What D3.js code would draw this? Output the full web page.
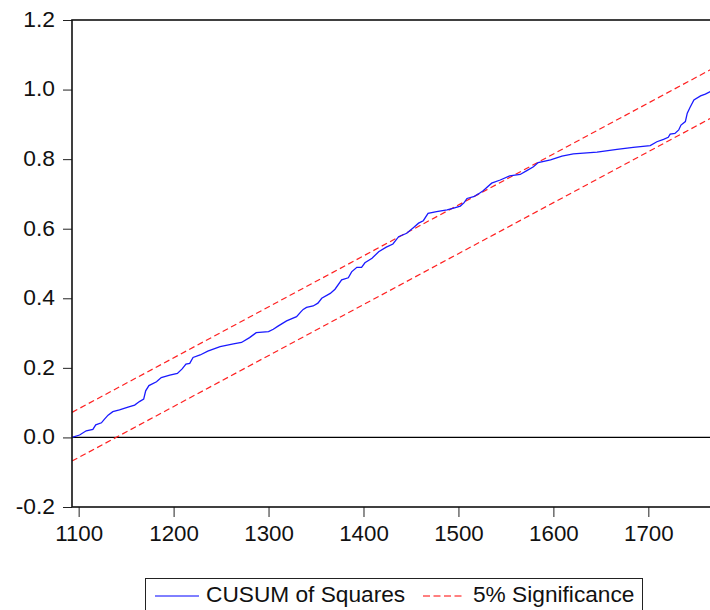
<!DOCTYPE html>
<html>
<head>
<meta charset="utf-8">
<script src="https://cdn.jsdelivr.net/npm/d3@7"></script>
<style>
  body { margin: 0; background: #fff; }
  svg { display: block; }
</style>
</head>
<body>
<div id="chart"></div>
<script>
// observation index of the CUSUM of squares series
var obs = [1093, 1101, 1108, 1115, 1118, 1124, 1127, 1131, 1136, 1143, 1152, 1159, 1164, 1168.5,
  1170.6, 1174, 1182, 1187, 1196, 1204, 1209, 1213, 1217, 1220.5, 1228, 1236, 1249, 1263, 1271.5,
  1280, 1287, 1300, 1305, 1310, 1319, 1329.5, 1334, 1336.5, 1340, 1347, 1352, 1356, 1365, 1370,
  1377, 1384, 1387.5, 1393, 1398, 1401.5, 1409, 1416, 1424, 1431, 1437, 1445.5, 1452.5, 1458,
  1463, 1468, 1477, 1488, 1495, 1502, 1506, 1509, 1516, 1521, 1526, 1535, 1544, 1554, 1565, 1572,
  1579, 1584, 1597, 1609, 1621, 1646, 1667, 1684, 1702, 1709, 1716, 1721, 1723, 1728, 1732, 1734.4,
  1739, 1741, 1744, 1748, 1755, 1760, 1765.3]
var cusumSq = [0, 0.007, 0.019, 0.023, 0.036, 0.042, 0.052, 0.064, 0.074, 0.079, 0.087, 0.093, 0.103, 0.110,
  0.134, 0.149, 0.160, 0.172, 0.179, 0.184, 0.197, 0.211, 0.213, 0.230, 0.237, 0.248, 0.261, 0.269, 0.273,
  0.287, 0.301, 0.304, 0.311, 0.320, 0.335, 0.347, 0.361, 0.368, 0.374, 0.378, 0.386, 0.400, 0.414, 0.426,
  0.453, 0.459, 0.476, 0.489, 0.489, 0.502, 0.515, 0.534, 0.547, 0.556, 0.577, 0.587, 0.603, 0.616,
  0.623, 0.644, 0.649, 0.654, 0.659, 0.665, 0.675, 0.687, 0.692, 0.700, 0.709, 0.731, 0.740, 0.752, 0.756, 0.767,
  0.778, 0.790, 0.798, 0.809, 0.815, 0.820, 0.828, 0.834, 0.839, 0.850, 0.857, 0.863, 0.872, 0.874, 0.884, 0.898,
  0.908, 0.932, 0.949, 0.970, 0.982, 0.987, 0.994]

// 5% significance bands (end points)
var bandObs = [1093, 1766]
var upperBand = [0.072, 1.058]
var lowerBand = [-0.068, 0.918]

var xTicks = [1100, 1200, 1300, 1400, 1500, 1600, 1700]
var yTicks = [-0.2, 0.0, 0.2, 0.4, 0.6, 0.8, 1.0, 1.2]
var legendLabels = ["CUSUM of Squares", "5% Significance"]

var W = 710, H = 610
var margin = {top: 20, left: 72, right: -1, bottom: 103}
var plotW = W - margin.left - margin.right,
    plotH = H - margin.top - margin.bottom
var font = "Liberation Sans, Arial, sans-serif"

var svg = d3.select("#chart").append("svg")
    .attr("width", W).attr("height", H)

var g = svg.append("g")
    .attr("transform", "translate(" + margin.left + "," + margin.top + ")")

var x = d3.scaleLinear().domain([1093, 1766]).range([0, plotW])
var y = d3.scaleLinear().domain([-0.2, 1.2]).range([plotH, 0])

var xAxis = g.append("g")
    .attr("transform", "translate(0," + plotH + ")")
    .call(d3.axisBottom(x).tickValues(xTicks).tickFormat(d3.format("d")).tickSize(10).tickPadding(8))
xAxis.select(".domain").remove()
xAxis.selectAll("text").attr("font-family", font).attr("font-size", 22.3).attr("fill", "#111")
xAxis.selectAll("line").attr("stroke", "#222")

var yAxis = g.append("g")
    .call(d3.axisLeft(y).tickValues(yTicks)
      .tickFormat(function(d) { return d3.format(".1f")(d).replace("\u2212", "-") })
      .tickSize(9).tickPadding(8))
yAxis.select(".domain").remove()
yAxis.selectAll("text").attr("font-family", font).attr("font-size", 22.8).attr("fill", "#111").attr("dy", "0.28em")
yAxis.selectAll("line").attr("stroke", "#222")

// zero line
g.append("line")
    .attr("x1", 0).attr("x2", plotW)
    .attr("y1", y(0)).attr("y2", y(0))
    .attr("stroke", "#000").attr("stroke-width", 1.2)

// bands
var line = d3.line().x(function(d) { return x(d[0]) }).y(function(d) { return y(d[1]) })
;[upperBand, lowerBand].forEach(function(b) {
  g.append("path")
      .datum(bandObs.map(function(o, i) { return [o, b[i]] }))
      .attr("d", line)
      .attr("fill", "none")
      .attr("stroke", "#ff2020")
      .attr("stroke-width", 1.2)
      .attr("stroke-dasharray", "6,3.5")
})

// CUSUM of squares
g.append("path")
    .datum(obs.map(function(o, i) { return [o, cusumSq[i]] }))
    .attr("d", line)
    .attr("fill", "none")
    .attr("stroke", "#1a1aff")
    .attr("stroke-width", 1.3)

// frame
g.append("rect")
    .attr("x", 0).attr("y", 0)
    .attr("width", plotW).attr("height", plotH)
    .attr("fill", "none")
    .attr("stroke", "#111").attr("stroke-width", 1.6)

// legend
var leg = svg.append("g").attr("font-family", font).attr("font-size", 22.7)
leg.append("rect")
    .attr("x", 145.5).attr("y", 578.5).attr("width", 497).attr("height", 45)
    .attr("fill", "#fff").attr("stroke", "#222").attr("stroke-width", 1)
leg.append("line").attr("x1", 155).attr("x2", 199).attr("y1", 596).attr("y2", 596)
    .attr("stroke", "#0000ff").attr("stroke-width", 1)
leg.append("text").attr("x", 206).attr("y", 601.7).attr("fill", "#111").text(legendLabels[0])
leg.append("line").attr("x1", 423).attr("x2", 464).attr("y1", 596).attr("y2", 596)
    .attr("stroke", "#ff0000").attr("stroke-width", 1).attr("stroke-dasharray", "7,3.5")
leg.append("text").attr("x", 473).attr("y", 601.7).attr("fill", "#111").text(legendLabels[1])
</script>
</body>
</html>
